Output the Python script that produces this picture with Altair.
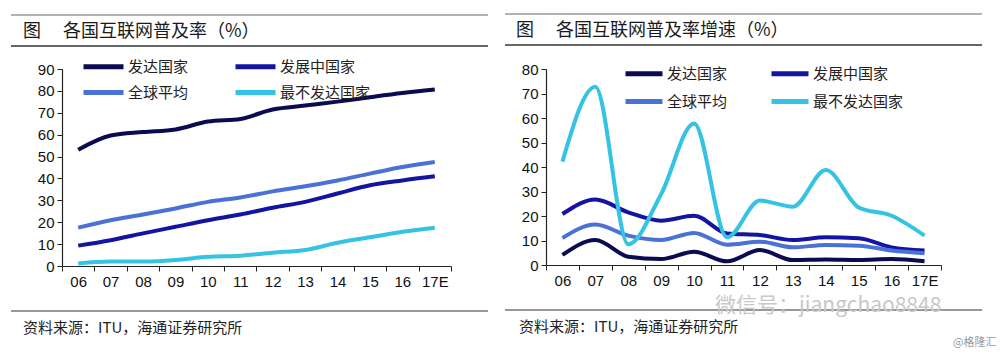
import altair as alt
import pandas as pd

years = ["06", "07", "08", "09", "10", "11", "12", "13", "14", "15", "16", "17E"]
series = ["发达国家", "发展中国家", "全球平均", "最不发达国家"]
colors = ["#0b0b52", "#1414a3", "#4a72d6", "#35c3e3"]

# Left: internet penetration (%)
pen_developed = [53.1, 59.6, 61.2, 62.4, 66.0, 67.2, 71.5, 73.3, 75.1, 77.1, 79.0, 80.6]
pen_developing = [9.3, 11.8, 14.9, 17.9, 20.9, 23.5, 26.6, 29.3, 33.1, 36.9, 39.1, 41.0]
pen_world = [17.5, 20.9, 23.5, 26.3, 29.3, 31.3, 34.1, 36.4, 39.1, 42.2, 45.2, 47.5]
pen_ldc = [1.1, 2.0, 2.0, 2.7, 4.2, 4.7, 6.1, 7.3, 10.6, 13.1, 15.6, 17.5]

# Right: growth of internet penetration (%)
gr_developed = [4.1, 10.2, 3.4, 2.4, 5.4, 1.5, 6.1, 2.0, 2.2, 2.0, 2.4, 1.5]
gr_developing = [20.8, 26.7, 21.5, 18.1, 20.1, 12.9, 12.2, 10.2, 11.3, 10.9, 7.2, 5.9]
gr_world = [11.0, 16.5, 12.0, 10.2, 13.1, 8.3, 9.5, 7.2, 8.2, 7.9, 5.9, 4.8]
gr_ldc = [42.2, 72.8, 8.5, 29.0, 57.8, 11.3, 26.3, 23.8, 38.8, 23.5, 20.1, 12.0]

title_left = "图\u3000 各国互联网普及率（%）"
title_right = "图\u3000 各国互联网普及率增速（%）"
source_text = "资料来源：ITU，海通证券研究所"
watermark = "微信号：jiangchao8848"
credit = "@格隆汇"

CJK = "Noto Sans CJK SC"
NUM = "Liberation Sans"


def long_df(vals):
    rows = []
    for s, v in zip(series, vals):
        for y, val in zip(years, v):
            rows.append({"year": y, "series": s, "value": val})
    return pd.DataFrame(rows)


def one(text):
    return pd.DataFrame({"t": [text]})


def panel(df, ymax, w, h, leg_x, leg_y, col_pad, row_pad, sym_w,
          title, top_y, title_x, rule_x1, rule_x2, bottom_y, src_x, extra=None):
    lines = alt.Chart(df).mark_line(interpolate="monotone", strokeWidth=4).encode(
        x=alt.X("year:N", sort=years, bandPosition=0.5,
                scale=alt.Scale(type="band", paddingInner=0, paddingOuter=0),
                axis=alt.Axis(title=None, tickBand="extent", labelAngle=0,
                              labelFont=NUM, labelFontSize=15, labelColor="#111",
                              tickSize=5, labelPadding=3, domainColor="#222",
                              tickColor="#222", domainWidth=1.2)),
        y=alt.Y("value:Q", scale=alt.Scale(domain=[0, ymax], nice=False),
                axis=alt.Axis(title=None, values=list(range(0, ymax + 1, 10)),
                              labelFont=NUM, labelFontSize=15, labelColor="#111",
                              tickSize=5, labelPadding=3, domainColor="#222",
                              tickColor="#222", grid=False, domainWidth=1.2)),
        color=alt.Color("series:N", sort=series,
                        scale=alt.Scale(domain=series, range=colors),
                        legend=alt.Legend(title=None, orient="none", legendX=leg_x,
                                          legendY=leg_y, columns=2, direction="horizontal",
                                          columnPadding=col_pad, rowPadding=row_pad,
                                          clipHeight=15,
                                          symbolType="stroke", symbolStrokeWidth=5,
                                          symbolSize=sym_w * sym_w, labelFont=CJK,
                                          labelFontSize=15, labelColor="#222",
                                          labelOffset=2, labelLimit=200)),
        detail="series:N",
    )
    top_rule = alt.Chart(one("a")).mark_rule(color="#999", strokeWidth=1.5).encode(
        x=alt.value(rule_x1), x2=alt.value(rule_x2), y=alt.value(top_y))
    mid_rule = alt.Chart(one("b")).mark_rule(color="#333", strokeWidth=1.5).encode(
        x=alt.value(rule_x1), x2=alt.value(rule_x2), y=alt.value(top_y + 31))
    bot_rule = alt.Chart(one("c")).mark_rule(color="#333", strokeWidth=1).encode(
        x=alt.value(rule_x1), x2=alt.value(rule_x2), y=alt.value(bottom_y))
    ttl = alt.Chart(one(title)).mark_text(
        font=CJK, fontSize=18, color="#1a1a1a", align="left", baseline="middle"
    ).encode(text="t:N", x=alt.value(title_x), y=alt.value(top_y + 17))
    src = alt.Chart(one(source_text)).mark_text(
        font=CJK, fontSize=15, color="#222", align="left", baseline="middle"
    ).encode(text="t:N", x=alt.value(src_x), y=alt.value(bottom_y + 17))
    layers = [lines, top_rule, mid_rule, bot_rule, ttl, src]
    if extra:
        layers += extra
    return alt.layer(*layers).properties(width=w, height=h)


left = panel(long_df([pen_developed, pen_developing, pen_world, pen_ldc]), 90,
             389, 197, 19, -10, 44, 10, 40,
             title_left, -54, -39, -51, 426, 242, -39)

wm = alt.Chart(one(watermark)).mark_text(
    font=CJK, fontSize=21, color="#c8c8c8", align="left", baseline="middle"
).encode(text="t:N", x=alt.value(169), y=alt.value(237))
cr = alt.Chart(one(credit)).mark_text(
    font=CJK, fontSize=11, color="#999", align="left", baseline="middle"
).encode(text="t:N", x=alt.value(407), y=alt.value(274))

right = panel(long_df([gr_developed, gr_developing, gr_world, gr_ldc]), 80,
              395, 196, 77, -3, 41, 12, 37,
              title_right, -55, -30, -41, 436, 241, -27, extra=[wm, cr])

chart = alt.hconcat(left, right, spacing=15).resolve_scale(
    color="independent", x="independent", y="independent"
).resolve_legend(color="independent").properties(
    padding={"left": 10, "top": 13, "right": 0, "bottom": 0},
    background="white",
).configure_view(stroke=None)

chart.save("out.html", embed_options={"renderer": "svg", "actions": False})
